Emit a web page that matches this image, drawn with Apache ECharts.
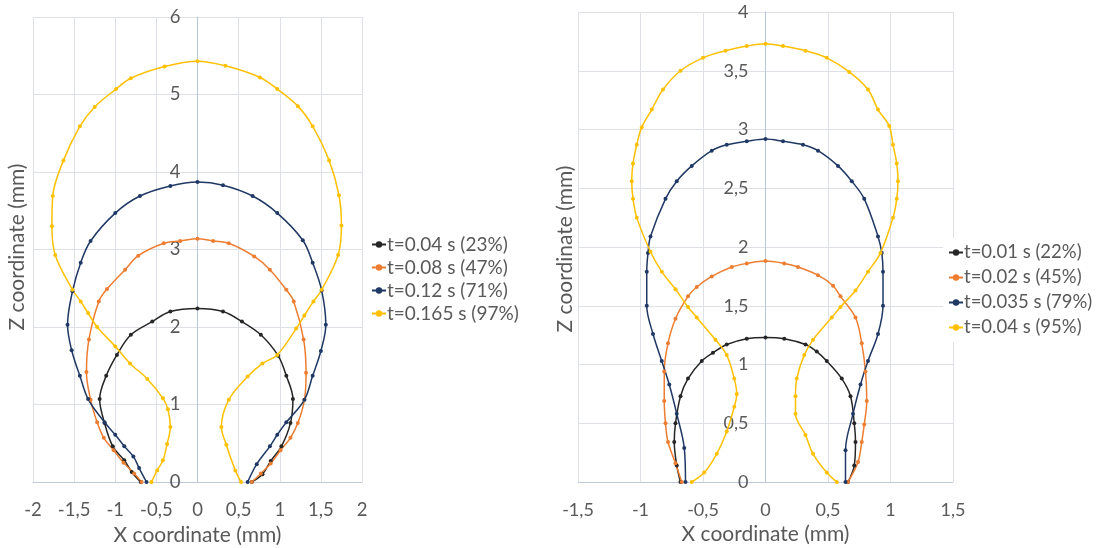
<!DOCTYPE html>
<html>
<head>
<meta charset="utf-8">
<script src="https://cdn.jsdelivr.net/npm/echarts@6/dist/echarts.min.js"></script>
<style>
  html, body { margin: 0; padding: 0; background: #fff; }
  #chart { width: 1107px; height: 548px; }
</style>
</head>
<body>
<div id="chart"></div>
<script>
// Droplet profiles, [x (mm), z (mm)], traced from the left base point over the apex to the right base point.

// Left panel
const leftNames = ['t=0.04 s (23%)', 't=0.08 s (47%)', 't=0.12 s (71%)', 't=0.165 s (97%)'];
const left_t004 = [
  [-0.69,0],[-0.80,0.13],[-0.89,0.28],[-1.03,0.46],[-1.13,0.76],[-1.19,1.07],[-1.11,1.37],
  [-0.98,1.64],[-0.81,1.90],[-0.55,2.07],[-0.33,2.20],[0,2.24],[0.31,2.20],[0.54,2.07],
  [0.77,1.90],[0.98,1.63],[1.08,1.37],[1.16,1.07],[1.13,0.76],[1.02,0.46],[0.89,0.27],
  [0.79,0.10],[0.66,0]
];
const left_t008 = [
  [-0.68,0],[-0.77,0.11],[-0.90,0.25],[-1.02,0.41],[-1.14,0.57],[-1.22,0.77],[-1.30,1.06],
  [-1.35,1.42],[-1.32,1.84],[-1.20,2.33],[-1.10,2.49],[-0.88,2.74],[-0.72,2.92],[-0.41,3.08],
  [-0.21,3.11],[0,3.14],[0.19,3.11],[0.38,3.08],[0.69,2.91],[0.88,2.74],[1.08,2.48],
  [1.17,2.33],[1.29,1.84],[1.32,1.41],[1.30,1.06],[1.22,0.76],[1.13,0.57],[1.01,0.41],
  [0.89,0.24],[0.77,0.11],[0.66,0]
];
const left_t012 = [
  [-0.62,0],[-0.71,0.18],[-0.78,0.33],[-0.89,0.46],[-1.00,0.61],[-1.13,0.77],[-1.33,1.07],
  [-1.43,1.37],[-1.53,1.70],[-1.58,2.03],[-1.52,2.46],[-1.42,2.83],[-1.30,3.11],[-1.00,3.47],
  [-0.70,3.69],[-0.33,3.82],[0,3.87],[0.31,3.83],[0.67,3.69],[0.97,3.47],[1.28,3.12],
  [1.40,2.83],[1.51,2.47],[1.56,2.03],[1.50,1.69],[1.40,1.37],[1.30,1.06],[1.08,0.77],
  [0.97,0.61],[0.88,0.46],[0.72,0.23],[0.61,0]
];
const left_t0165 = [
  [-0.56,0],[-0.49,0.15],[-0.42,0.28],[-0.37,0.49],[-0.33,0.71],[-0.36,0.94],[-0.42,1.08],
  [-0.61,1.33],[-0.82,1.53],[-1.00,1.75],[-1.22,2.00],[-1.33,2.18],[-1.42,2.33],[-1.52,2.48],
  [-1.73,2.93],[-1.77,3.30],[-1.76,3.69],[-1.63,4.15],[-1.43,4.59],[-1.25,4.84],[-0.99,5.07],
  [-0.81,5.21],[-0.40,5.36],[0,5.43],[0.34,5.37],[0.76,5.22],[0.97,5.07],[1.22,4.85],
  [1.40,4.59],[1.60,4.15],[1.72,3.70],[1.75,3.31],[1.71,2.93],[1.51,2.48],[1.41,2.33],
  [1.30,2.15],[1.20,1.98],[0.97,1.64],[0.79,1.53],[0.61,1.36],[0.38,1.06],[0.29,0.71],
  [0.35,0.48],[0.46,0.15],[0.53,0]
];

// Right panel
const rightNames = ['t=0.01 s (22%)', 't=0.02 s (45%)', 't=0.035 s (79%)', 't=0.04 s (95%)'];
const right_t001 = [
  [-0.68,0],[-0.71,0.14],[-0.73,0.34],[-0.72,0.50],[-0.68,0.73],[-0.62,0.88],[-0.51,1.03],
  [-0.42,1.10],[-0.31,1.17],[-0.15,1.22],[0,1.23],[0.15,1.22],[0.32,1.17],[0.41,1.11],
  [0.49,1.03],[0.61,0.88],[0.68,0.73],[0.71,0.50],[0.72,0.34],[0.71,0.14],[0.66,0]
];
const right_t002 = [
  [-0.67,0],[-0.72,0.16],[-0.78,0.34],[-0.80,0.50],[-0.81,0.69],[-0.81,0.94],[-0.78,1.18],
  [-0.72,1.39],[-0.62,1.58],[-0.55,1.66],[-0.43,1.75],[-0.27,1.83],[-0.15,1.86],[0,1.88],
  [0.15,1.86],[0.26,1.83],[0.42,1.76],[0.54,1.67],[0.60,1.58],[0.72,1.40],[0.77,1.18],
  [0.80,0.94],[0.81,0.69],[0.79,0.49],[0.77,0.34],[0.74,0.17],[0.66,0]
];
const right_t0035 = [
  [-0.64,0],[-0.65,0.29],[-0.71,0.58],[-0.77,0.83],[-0.83,1.03],[-0.90,1.26],[-0.95,1.50],
  [-0.95,1.79],[-0.94,1.95],[-0.92,2.09],[-0.80,2.41],[-0.71,2.56],[-0.59,2.69],[-0.43,2.82],
  [-0.31,2.87],[-0.15,2.90],[0,2.92],[0.14,2.90],[0.30,2.87],[0.42,2.82],[0.58,2.69],
  [0.69,2.56],[0.79,2.41],[0.90,2.09],[0.93,1.95],[0.94,1.79],[0.94,1.50],[0.90,1.26],
  [0.82,1.03],[0.76,0.83],[0.70,0.58],[0.64,0.27],[0.64,0]
];
const right_t004 = [
  [-0.59,0],[-0.49,0.08],[-0.39,0.24],[-0.31,0.43],[-0.25,0.64],[-0.23,0.75],[-0.25,0.88],
  [-0.31,1.08],[-0.40,1.21],[-0.55,1.40],[-0.62,1.49],[-0.72,1.64],[-0.83,1.79],[-0.92,1.96],
  [-1.03,2.25],[-1.06,2.41],[-1.07,2.56],[-1.06,2.71],[-1.03,2.87],[-0.99,3.02],[-0.91,3.17],
  [-0.82,3.34],[-0.68,3.50],[-0.50,3.61],[-0.32,3.67],[-0.15,3.71],[0,3.73],[0.14,3.71],
  [0.32,3.67],[0.49,3.61],[0.67,3.49],[0.82,3.34],[0.90,3.17],[0.99,3.03],[1.02,2.87],
  [1.05,2.71],[1.06,2.56],[1.05,2.41],[1.02,2.25],[0.92,1.95],[0.82,1.79],[0.72,1.63],
  [0.60,1.49],[0.53,1.40],[0.38,1.21],[0.31,1.08],[0.25,0.88],[0.24,0.73],[0.24,0.58],
  [0.32,0.40],[0.38,0.24],[0.49,0.08],[0.57,0]
];

// Axis ranges
const leftX = { min: -2, max: 2, step: 0.5 };
const leftZ = { min: 0, max: 6, step: 1 };
const rightX = { min: -1.5, max: 1.5, step: 0.5 };
const rightZ = { min: 0, max: 4, step: 0.5 };

const seriesColors = ['#262626', '#ED7D31', '#1F3864', '#FFC000'];
const TEXT = '#595959';
const FONT = 'Lato, "Open Sans", sans-serif';

// Plot rectangles of the two panels
const leftGrid = { left: 33, top: 17, width: 329, height: 465 };
const rightGrid = { left: 578, top: 12, width: 375, height: 470 };

const decimalComma = v => String(v).replace('.', ',');

// Pixel distance from a grid's left edge to x = 0, so the Z axis sits on the centre line
const zeroOffset = (g, r) => g.width * (0 - r.min) / (r.max - r.min);

function xAxisFor(idx, r, fs) {
  return {
    type: 'value', gridIndex: idx, min: r.min, max: r.max, interval: r.step,
    name: 'X coordinate (mm)', nameLocation: 'middle', nameGap: 42,
    nameTextStyle: { color: TEXT, fontSize: 21, fontFamily: FONT },
    axisLine: { show: true, onZero: false, lineStyle: { color: '#BFC9D9', width: 1 } },
    axisTick: { show: false },
    axisLabel: { color: TEXT, fontSize: fs, fontFamily: FONT, margin: 19, formatter: decimalComma },
    splitLine: { show: true, lineStyle: { color: '#DDE1E6', width: 1 } }
  };
}
function yAxisFor(idx, r, g, xr, fs) {
  return {
    type: 'value', gridIndex: idx, min: r.min, max: r.max, interval: r.step,
    position: 'left', offset: -zeroOffset(g, xr),
    axisLine: { show: true, onZero: false, lineStyle: { color: '#B8C6DB', width: 1 } },
    axisTick: { show: false },
    axisLabel: { color: TEXT, fontSize: fs, fontFamily: FONT, margin: 17, formatter: decimalComma },
    splitLine: { show: true, lineStyle: { color: '#DDE1E6', width: 1 } }
  };
}

function curve(name, data, color, idx) {
  return {
    name, type: 'line', xAxisIndex: idx, yAxisIndex: idx, data,
    smooth: 0.35, symbol: 'circle', symbolSize: 4, showSymbol: true,
    color, lineStyle: { color, width: 1.5 }, itemStyle: { color },
    emphasis: { disabled: true }, animation: false
  };
}

function zTitle(cx, cy) {
  return {
    type: 'text', x: cx, y: cy, rotation: Math.PI / 2, silent: true,
    style: { text: 'Z coordinate (mm)', fill: TEXT, fontSize: 21, fontFamily: FONT,
             align: 'center', verticalAlign: 'middle' }
  };
}

const leftData = [left_t004, left_t008, left_t012, left_t0165];
const rightData = [right_t001, right_t002, right_t0035, right_t004];

const chart = echarts.init(document.getElementById('chart'));
chart.setOption({
  backgroundColor: '#fff',
  animation: false,
  grid: [
    Object.assign({ containLabel: false, outerBoundsMode: 'none' }, leftGrid),
    Object.assign({ containLabel: false, outerBoundsMode: 'none' }, rightGrid)
  ],
  xAxis: [xAxisFor(0, leftX, 18.5), xAxisFor(1, rightX, 18)],
  yAxis: [yAxisFor(0, leftZ, leftGrid, leftX, 18.5), yAxisFor(1, rightZ, rightGrid, rightX, 18)],
  legend: [
    {
      data: leftNames, orient: 'vertical', left: 366, top: 230, itemGap: 4,
      itemWidth: 14, itemHeight: 8,
      textStyle: { color: TEXT, fontSize: 19, fontFamily: FONT, lineHeight: 19, padding: [0, 0, 0, -4] }
    },
    {
      data: rightNames, orient: 'vertical', left: 943, top: 238, itemGap: 6,
      itemWidth: 14, itemHeight: 8, backgroundColor: '#fff',
      textStyle: { color: TEXT, fontSize: 18.5, fontFamily: FONT, lineHeight: 19, padding: [0, 0, 0, -4] }
    }
  ],
  graphic: [zTitle(17, 247), zTitle(565, 249)],
  series: [
    ...leftData.map((d, i) => curve(leftNames[i], d, seriesColors[i], 0)),
    ...rightData.map((d, i) => curve(rightNames[i], d, seriesColors[i], 1))
  ]
});
</script>
</body>
</html>
